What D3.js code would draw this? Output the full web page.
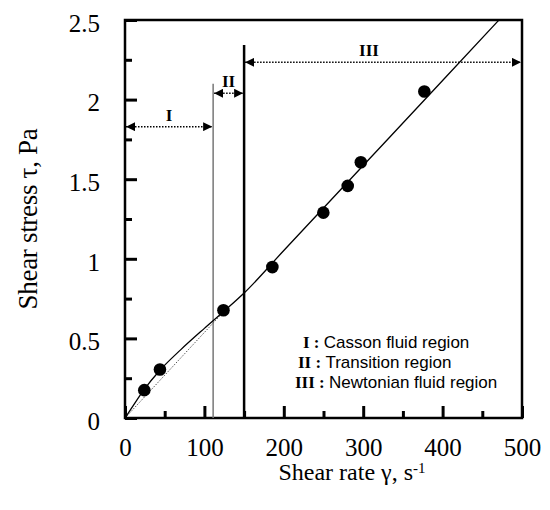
<!DOCTYPE html>
<html>
<head>
<meta charset="utf-8">
<script src="https://cdn.jsdelivr.net/npm/d3@7"></script>
<style>
  body { margin: 0; background: #fff; }
  .tick text { font-family: "Liberation Serif", "Times New Roman", serif; font-size: 25px; fill: #000; }
  .axis path { display: none; }
  .axis line { stroke: #000; stroke-width: 3; }
</style>
</head>
<body>
<script>
// Measured points
let shearRate = [24.3, 44, 124, 185.6, 249.8, 280.5, 297, 377];
let shearStress = [0.175, 0.305, 0.677, 0.948, 1.29, 1.458, 1.606, 2.051];

// Fitted curve (Casson + Newtonian)
let fitRate = [0, 8, 24, 44, 70, 100, 125, 150, 200, 300, 400, 471];
let fitStress = [0, 0.06, 0.178, 0.3, 0.428, 0.563, 0.672, 0.785, 1.052, 1.586, 2.12, 2.5];

// Newtonian line extended to the origin (dotted)
let newtonRate = [0, 120];
let newtonStress = [0, 0.645];

// Flow regions
let regionLabels = ["I", "II", "III"];
let regionStart = [0, 111, 150];
let regionEnd = [111, 150, 500];
let regionArrowLevel = [1.83, 2.04, 2.234];
let boundaryRate = [111, 150];
let boundaryTop = [2.1, 2.343];

let legendNumerals = ["I", "II", "III"];
let legendTexts = ["Casson fluid region", "Transition region", "Newtonian fluid region"];

let xTicks = [0, 100, 200, 300, 400, 500];
let yTicks = [0, 0.5, 1, 1.5, 2, 2.5];
let xMinorTicks = [50, 150, 250, 350, 450];
let yMinorTicks = [0.25, 0.75, 1.25, 1.75, 2.25];

// SVG area
let svgWidth = 550;
let svgHeight = 510;
let margin = { top: 20, right: 28, bottom: 92, left: 125 };
let chartWidth = svgWidth - margin.left - margin.right;
let chartHeight = svgHeight - margin.top - margin.bottom;

let svg = d3.select("body")
    .append("svg")
    .attr("width", svgWidth)
    .attr("height", svgHeight);

let defs = svg.append("defs");
defs.append("marker")
    .attr("id", "head")
    .attr("viewBox", "0 0 10 10")
    .attr("refX", 10)
    .attr("refY", 5)
    .attr("markerWidth", 9)
    .attr("markerHeight", 9)
    .attr("markerUnits", "userSpaceOnUse")
    .attr("orient", "auto-start-reverse")
    .append("path")
    .attr("d", "M0,0 L10,5 L0,10 Z")
    .attr("fill", "#000");

let chart = svg.append("g")
    .attr("transform", `translate(${margin.left}, ${margin.top})`);

let xScale = d3.scaleLinear().domain([0, 500]).range([0, chartWidth]);
let yScale = d3.scaleLinear().domain([0, 2.5]).range([chartHeight, 0]);

// Frame
chart.append("rect")
    .attr("width", chartWidth)
    .attr("height", chartHeight)
    .attr("fill", "none")
    .attr("stroke", "#000")
    .attr("stroke-width", 2.5);

// Region boundaries
chart.selectAll(".boundary")
    .data(boundaryRate)
    .enter()
    .append("line")
    .attr("class", "boundary")
    .attr("x1", d => xScale(d))
    .attr("x2", d => xScale(d))
    .attr("y1", chartHeight)
    .attr("y2", (d, i) => yScale(boundaryTop[i]))
    .attr("stroke", (d, i) => i === 0 ? "#777" : "#000")
    .attr("stroke-width", (d, i) => i === 0 ? 1.5 : 2.5);

// Region arrows
regionLabels.forEach(function(label, i) {
    chart.append("line")
        .attr("x1", xScale(regionStart[i]) + 1)
        .attr("x2", xScale(regionEnd[i]) - 1)
        .attr("y1", yScale(regionArrowLevel[i]))
        .attr("y2", yScale(regionArrowLevel[i]))
        .attr("stroke", "#000")
        .attr("stroke-width", 1.5)
        .attr("stroke-dasharray", "1.5,1.5")
        .attr("marker-start", "url(#head)")
        .attr("marker-end", "url(#head)");
    chart.append("text")
        .attr("x", xScale((regionStart[i] + regionEnd[i]) / 2) - (i === 2 ? 14 : 0))
        .attr("y", yScale(regionArrowLevel[i]) - 6)
        .attr("text-anchor", "middle")
        .style("font-family", "Liberation Serif, Times New Roman, serif")
        .style("font-weight", "bold")
        .style("font-size", "17px")
        .text(label);
});

// Dotted Newtonian extension
let linePath = d3.line()
    .x(d => xScale(d[0]))
    .y(d => yScale(d[1]));

chart.append("path")
    .datum(newtonRate.map((d, i) => [d, newtonStress[i]]))
    .attr("d", linePath)
    .attr("fill", "none")
    .attr("stroke", "#555")
    .attr("stroke-width", 1)
    .attr("stroke-dasharray", "1.5,1.5");

// Fitted curve
chart.append("path")
    .datum(fitRate.map((d, i) => [d, fitStress[i]]))
    .attr("d", linePath.curve(d3.curveMonotoneX))
    .attr("fill", "none")
    .attr("stroke", "#000")
    .attr("stroke-width", 1.3);

// Data points
chart.selectAll("circle")
    .data(shearRate)
    .enter()
    .append("circle")
    .attr("cx", d => xScale(d))
    .attr("cy", (d, i) => yScale(shearStress[i]))
    .attr("r", 6.3)
    .attr("fill", "#000");

// Legend
let legendX = [178, 173, 170];
legendTexts.forEach(function(txt, i) {
    let t = chart.append("text")
        .attr("x", legendX[i])
        .attr("y", 328 + i * 20);
    t.append("tspan")
        .style("font-family", "Liberation Serif, Times New Roman, serif")
        .style("font-weight", "bold")
        .style("font-size", "17px")
        .text(legendNumerals[i] + " : ");
    t.append("tspan")
        .style("font-family", "Liberation Sans, Arial, sans-serif")
        .style("font-size", "17px")
        .text(txt);
});

// Minor ticks (inward), drawn on top of everything
chart.append("g")
    .attr("class", "axis")
    .attr("transform", `translate(0, ${chartHeight})`)
    .call(d3.axisBottom(xScale).tickValues(xMinorTicks).tickSize(-7).tickFormat(""));
chart.append("g")
    .attr("class", "axis")
    .call(d3.axisLeft(yScale).tickValues(yMinorTicks).tickSize(-7).tickFormat(""));

// Major ticks with labels (inward)
chart.append("g")
    .attr("class", "axis")
    .attr("transform", `translate(0, ${chartHeight})`)
    .call(d3.axisBottom(xScale).tickValues(xTicks).tickSize(-12).tickPadding(20).tickFormat(d3.format("d")));
chart.append("g")
    .attr("class", "axis")
    .call(d3.axisLeft(yScale).tickValues(yTicks).tickSize(-12).tickPadding(25).tickFormat(d => String(d)))
    .selectAll("text").attr("dy", "0.45em");

// Axis titles
chart.append("text")
    .attr("transform", `translate(${37 - margin.left}, ${chartHeight / 2}) rotate(-90)`)
    .attr("text-anchor", "middle")
    .style("font-family", "Liberation Serif, Times New Roman, serif")
    .style("font-size", "27px")
    .style("letter-spacing", "-0.3px")
    .text("Shear stress τ, Pa");

let xTitle = chart.append("text")
    .attr("x", 352 - margin.left)
    .attr("y", 480 - margin.top)
    .attr("text-anchor", "middle")
    .style("font-family", "Liberation Serif, Times New Roman, serif")
    .style("font-size", "24px");
xTitle.append("tspan").text("Shear rate γ, s");
xTitle.append("tspan").attr("dy", "-0.5em").style("font-size", "15px").text("-1");
</script>
</body>
</html>
